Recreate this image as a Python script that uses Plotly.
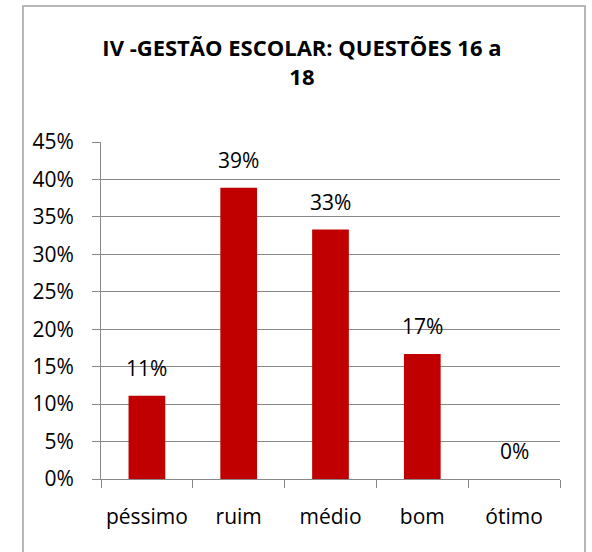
import plotly.graph_objects as go

# Dados do gráfico
categorias = ["péssimo", "ruim", "médio", "bom", "ótimo"]
valores = [0.111, 0.389, 0.333, 0.167, 0.0]
rotulos = ["11%", "39%", "33%", "17%", "0%"]

FONTE = "Open Sans, Noto Sans, sans-serif"

fig = go.Figure()

fig.add_trace(go.Bar(
    x=categorias,
    y=valores,
    marker=dict(color="#C00000", line=dict(width=0)),
    width=0.4,
    hoverinfo="skip",
))

# Rótulos de dados acima das barras
for cat, val, txt in zip(categorias, valores, rotulos):
    fig.add_annotation(
        x=cat, y=val, text=txt, showarrow=False,
        yanchor="middle", yshift=28,
        font=dict(family=FONTE, size=21, color="black"),
    )

# Borda do gráfico
fig.add_shape(
    type="rect", xref="paper", yref="paper",
    x0=-0.170, x1=1.0545, y0=-0.30, y1=1.4036,
    line=dict(color="#a0a0a0", width=1.5), fillcolor="rgba(0,0,0,0)",
)

fig.update_layout(
    width=592,
    height=552,
    margin=dict(l=101, r=32, t=142, b=73),
    paper_bgcolor="white",
    plot_bgcolor="white",
    showlegend=False,
    title=dict(
        text="<b>IV -GESTÃO ESCOLAR: QUESTÕES 16 a<br>18</b>",
        x=0.51, xanchor="center", y=0.898, yanchor="middle",
        font=dict(family=FONTE, size=22, color="black"),
    ),
    font=dict(family=FONTE, size=21, color="black"),
)

fig.update_xaxes(
    showgrid=False,
    showline=True, linecolor="#888888", linewidth=1,
    ticks="outside", ticklen=8, tickcolor="#888888",
    tickson="boundaries",
    tickangle=0,
    automargin=False,
    ticklabelstandoff=19,
    tickfont=dict(family=FONTE, size=21),
)

fig.update_yaxes(
    range=[0, 0.45],
    dtick=0.05,
    tickformat=".0%",
    showgrid=True, gridcolor="#888888", gridwidth=1,
    showline=True, linecolor="#888888", linewidth=1,
    ticks="outside", ticklen=8, tickcolor="#888888",
    ticklabelstandoff=14,
    zeroline=False,
    automargin=False,
    tickfont=dict(family=FONTE, size=21),
)

# remove a margem padrão do body para o gráfico ocupar a janela inteira
fig.write_html(
    "out.html",
    config={"displayModeBar": False},
    post_script="document.body.style.margin='0';",
)
